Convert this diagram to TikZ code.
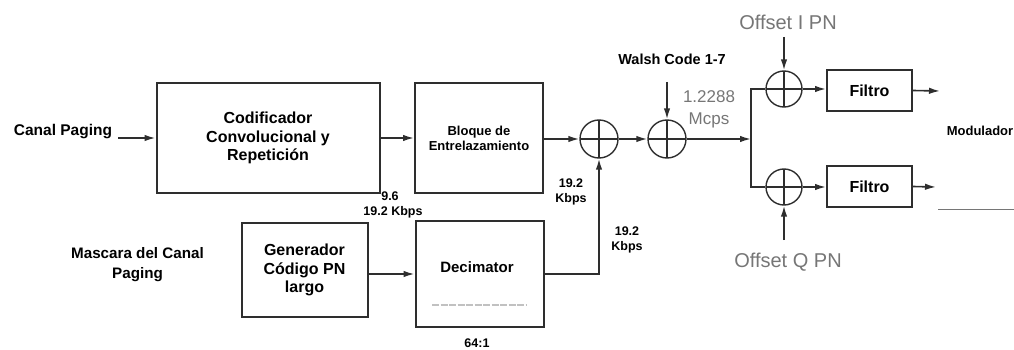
\documentclass[tikz,border=0pt]{standalone}
\usepackage{fontspec}
\setmainfont{Liberation Sans}
\usepackage{xcolor}
\usetikzlibrary{positioning, arrows.meta, calc}

\definecolor{linecol}{HTML}{2E2E2E}
\definecolor{softgray}{HTML}{767676}

\begin{document}
\begin{tikzpicture}[
        x=1pt, y=-1pt,
        >={Latex[length=11pt, width=6.5pt]},
        block/.style={rectangle, draw=linecol, line width=2pt, align=center, inner sep=0pt,
                font=\fontsize{16}{18.5}\selectfont\bfseries},
        xorsum/.style={circle, draw=linecol, line width=1.4pt, minimum size=38pt, inner sep=0pt,
                path picture={\draw[linecol, line width=1.4pt]
                    (path picture bounding box.north) -- (path picture bounding box.south)
                    (path picture bounding box.west) -- (path picture bounding box.east);}},
        txt/.style={align=center, inner sep=0pt, font=\fontsize{15.5}{19}\selectfont\bfseries},
        rate/.style={align=center, inner sep=0pt, font=\fontsize{12.5}{15}\selectfont\bfseries},
        pn/.style={align=center, inner sep=0pt, text=softgray, font=\fontsize{20}{24}\selectfont},
        arrow/.style={->, line width=1.6pt, draw=linecol},
        wire/.style={line width=1.6pt, draw=linecol},
    ]
    \useasboundingbox (0,0) rectangle (1014,350);

    % --- blocks -----------------------------------------------------
    \node[block, minimum width=223pt, minimum height=110pt] (codif) at (268,138)
    {Codificador\\Convolucional y\\Repetición};
    \node[block, minimum width=128pt, minimum height=109pt,
        font=\fontsize{13}{15}\selectfont\bfseries] (bloque) at (479,138)
    {Bloque de\\Entrelazamiento};
    \node[block, minimum width=126pt, minimum height=94pt] (gener) at (304.5,270)
    {Generador\\Código PN\\largo};
    \node[block, minimum width=128pt, minimum height=106pt] (decim) at (479.5,274) {};
    \node[txt, font=\fontsize{15}{18}\selectfont\bfseries] (decimtxt) at (477,267) {Decimator};
    \draw[softgray!45, line width=1.5pt, dash pattern=on 7pt off 1.5pt] (432,305) -- (527,305);

    \node[block, minimum width=85pt, minimum height=41pt] (filtroI) at (869.5,90.5) {Filtro};
    \node[block, minimum width=85pt, minimum height=41pt] (filtroQ) at (869.5,186.5) {Filtro};

    % --- sums -------------------------------------------------------
    \node[xorsum] (sum1) at (599,139) {};
    \node[xorsum] (sum2) at (667,139) {};
    \node[xorsum, minimum size=36pt] (sumI) at (784,89) {};
    \node[xorsum, minimum size=36pt] (sumQ) at (784,187) {};

    % --- labels -----------------------------------------------------
    \node[txt] (canal) at (63,132) {Canal Paging};
    \node[txt, font=\fontsize{15.2}{20}\selectfont\bfseries] (mascara) at (137.5,265)
    {Mascara del Canal\\Paging};
    \node[rate] (r96) at (390,196) {9.6};
    \node[rate] (r192a) at (393,212) {19.2 Kbps};
    \node[rate] (r192b) at (571,191.5) {19.2\\Kbps};
    \node[rate] (r192c) at (627,239.5) {19.2\\Kbps};
    \node[rate] (ratio) at (477,343) {64:1};
    \node[txt, font=\fontsize{14.5}{17}\selectfont\bfseries] (walsh) at (672,59) {Walsh Code 1-7};
    \node[pn, font=\fontsize{17}{20}\selectfont] (chips) at (709,97) {1.2288};
    \node[pn, font=\fontsize{17}{20}\selectfont] (mcps) at (709,120) {Mcps};
    \node[pn] (offI) at (788,22) {Offset I PN};
    \node[pn] (offQ) at (788,262) {Offset Q PN};
    \node[txt, font=\fontsize{13}{16}\selectfont\bfseries] (modul) at (980,131) {Modulador};

    \coordinate (walshin) at (667,82);
    \coordinate (split) at (751,139);
    \coordinate (offIin) at (784,37);
    \coordinate (offQin) at (784,240);
    \coordinate (outI) at (940,91);
    \coordinate (outQ) at (936,187);

    % --- data path --------------------------------------------------
    \draw[arrow] ([xshift=6pt]canal.east |- codif.west) -- (codif.west);
    \draw[arrow] (codif.east) -- (bloque.west |- codif.east);
    \draw[arrow] (bloque.east |- sum1.west) -- (sum1.west);
    \draw[arrow] (sum1.east) -- (sum2.west);
    \draw[arrow] (walshin) -- (sum2.north);
    \draw[arrow] (sum2.east) -- (split);
    \draw[wire] (sumI.west) -| (split) |- (sumQ.west);

    % --- long code --------------------------------------------------
    \draw[arrow] (gener.east |- decim.west) -- (decim.west);
    \draw[arrow] (decim.east) -| (sum1.south);

    % --- I / Q branches ---------------------------------------------
    \draw[arrow] (offIin) -- (sumI.north);
    \draw[arrow] (offQin) -- (sumQ.south);
    \draw[arrow] (sumI.east) -- (filtroI.west |- sumI.east);
    \draw[arrow] (sumQ.east) -- (filtroQ.west |- sumQ.east);
    \draw[arrow] (filtroI.east) -- (outI);
    \draw[arrow] (filtroQ.east) -- (outQ);
    \draw[softgray, line width=1pt] (938,209) -- (1014,209);
\end{tikzpicture}
\end{document}
